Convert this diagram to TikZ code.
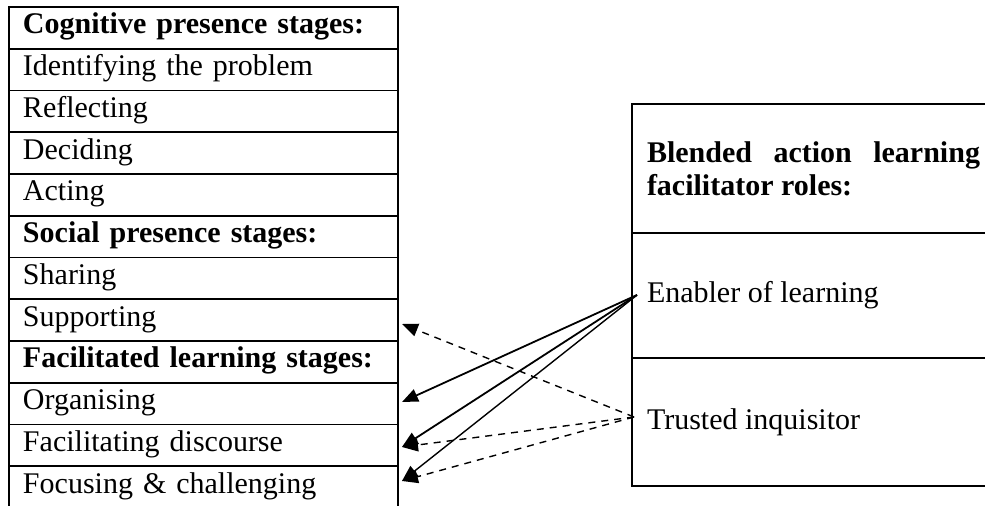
\documentclass[tikz,border=0pt]{standalone}
\usepackage{fontspec}
\setmainfont{Liberation Serif}
\usetikzlibrary{arrows.meta}
\tikzset{
  cell/.style={draw,line width=0.9pt,anchor=north west,outer sep=0pt,inner xsep=7pt,
    text width=180.5pt,minimum height=20.875pt,align=left,text height=0.78em,text depth=0.18em},
  rolecell/.style={draw,line width=0.9pt,anchor=north west,outer sep=0pt,inner xsep=7.5pt,
    text width=166.5pt,align=justify},
  link/.style={line width=0.7pt,-{Triangle[length=8pt,width=6.5pt]}},
  dlink/.style={link,dash pattern=on 3.5pt off 3pt}
}
\begin{document}
\begin{tikzpicture}[x=0.5pt,y=-0.5pt,font=\fontsize{15}{16.5}\selectfont]
\useasboundingbox (0,0) rectangle (985,506);

% stages
\node[cell] (cog) at (9,7) {\textbf{Cognitive presence stages:}};
\node[cell] (ident) at (9,48.75) {Identifying the problem};
\node[cell] (refl) at (9,90.5) {Reflecting};
\node[cell] (decid) at (9,132.25) {Deciding};
\node[cell] (act) at (9,174) {Acting};
\node[cell] (soc) at (9,215.75) {\textbf{Social presence stages:}};
\node[cell] (share) at (9,257.5) {Sharing};
\node[cell] (supp) at (9,299.25) {Supporting};
\node[cell] (fac) at (9,341) {\textbf{Facilitated learning stages:}};
\node[cell] (org) at (9,382.75) {Organising};
\node[cell] (disc) at (9,424.5) {Facilitating discourse};
\node[cell] (focus) at (9,466.25) {Focusing \& challenging};

% roles
\node[rolecell,minimum height=64.5pt] (blend) at (632,104) {\textbf{Blended action learning\linebreak facilitator roles:}};
\node[rolecell,minimum height=62.5pt] (enabler) at (632,233) {Enabler of learning};
\node[rolecell,minimum height=64pt] (trusted) at (632,358) {Trusted inquisitor};

\coordinate (enablerpt) at (637,295);
\coordinate (trustedpt) at (634,417);
\coordinate (suppin) at (402,324);
\coordinate (orgin) at (402,402);
\coordinate (discin) at (402,447);
\coordinate (focusin) at (402,481);

\draw[link,line width=0.9pt] (enablerpt) -- (orgin);
\draw[link,line width=0.9pt] (enablerpt) -- (discin);
\draw[link] (enablerpt) -- (focusin);
\draw[dlink] (trustedpt) -- (suppin);
\draw[dlink] (trustedpt) -- (discin);
\draw[dlink] (trustedpt) -- (focusin);
\end{tikzpicture}
\end{document}
